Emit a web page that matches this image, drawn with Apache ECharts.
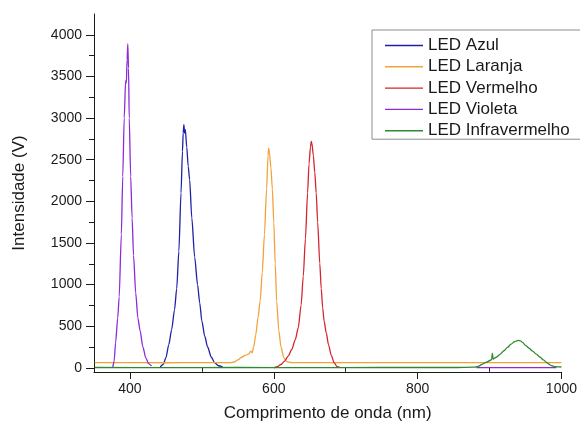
<!DOCTYPE html>
<html>
<head>
<meta charset="utf-8">
<script src="https://cdn.jsdelivr.net/npm/echarts@6/dist/echarts.min.js"></script>
<style>
  html, body { margin: 0; padding: 0; background: #ffffff; }
  #chart { width: 580px; height: 427px; }
</style>
</head>
<body>
<div id="chart"></div>
<script>
// Emission spectra of five LEDs: [wavelength (nm), intensity (V)]
const seriesNames = ['LED Azul', 'LED Laranja', 'LED Vermelho', 'LED Violeta', 'LED Infravermelho'];

const ledAzul = [
  [442, 10], [446, 40], [450, 120], [454, 280], [458, 460], [462, 700], [465, 950],
  [468, 1400], [471, 2100], [473, 2600], [474, 2820], [475, 2920], [476, 2820],
  [477, 2860], [479, 2650], [481, 2420], [483, 2260], [486, 1800], [490, 1330],
  [494, 1000], [497, 780], [500, 560], [504, 380], [508, 250], [513, 130],
  [518, 60], [523, 25], [529, 10]
];

const ledLaranja = [
  [351, 62], [400, 63], [450, 61], [500, 63], [540, 62], [545, 70], [550, 95],
  [555, 125], [560, 150], [565, 165], [568, 200], [570, 180], [572, 250],
  [575, 400], [578, 600], [581, 800], [584, 1150], [587, 1600], [590, 2150],
  [592, 2550], [593, 2640], [594, 2580], [596, 2400], [598, 2150], [600, 1750],
  [602, 1250], [604, 800], [607, 450], [610, 250], [614, 120], [618, 75],
  [625, 63], [700, 62], [800, 63], [900, 62], [1000, 63]
];

const ledVermelho = [
  [600, 0], [605, 15], [610, 40], [615, 80], [620, 140], [625, 220], [630, 340],
  [634, 480], [638, 750], [641, 1100], [644, 1550], [647, 2100], [649, 2450],
  [651, 2650], [652, 2720], [653, 2700], [655, 2550], [657, 2350], [659, 2100],
  [661, 1750], [664, 1250], [666, 950], [668, 720], [670, 560], [673, 420],
  [676, 280], [680, 150], [684, 60], [688, 15], [692, 5]
];

const ledVioleta = [
  [376, 0], [378, 80], [380, 300], [383, 600], [385, 850], [388, 1600],
  [390, 2300], [392, 3000], [394, 3450], [395, 3420], [396, 3700], [397, 3890],
  [398, 3600], [399, 3000], [401, 2300], [403, 1800], [405, 1350], [408, 900],
  [411, 600], [414, 450], [418, 250], [422, 120], [426, 50], [430, 20],
  null,
  [882, 2], [930, 2], [993, 2]
];

const ledInfravermelho = [
  [351, 4], [450, 3], [550, 4], [650, 3], [750, 4], [850, 4], [880, 8],
  [885, 20], [890, 45], [895, 65], [900, 85], [903, 100], [904, 175], [905, 105],
  [910, 130], [915, 165], [920, 205], [925, 245], [930, 285], [935, 315],
  [940, 330], [943, 325], [946, 305], [950, 270], [955, 235], [960, 200],
  [965, 165], [970, 130], [975, 95], [980, 60], [985, 30], [990, 15], [1000, 10]
];

const seriesData = [ledAzul, ledLaranja, ledVermelho, ledVioleta, ledInfravermelho];
const seriesColors = ['#1f1fa8', '#f2a23a', '#d42430', '#8e2ad8', '#2e8a2e'];

// Axis ticks and labels
const xMajorTicks = [400, 600, 800, 1000];
const xMinorTicks = [500, 700, 900];
const yMajorTicks = [0, 500, 1000, 1500, 2000, 2500, 3000, 3500, 4000];
const yMinorTicks = [250, 750, 1250, 1750, 2250, 2750, 3250, 3750];

const FONT = '"Liberation Sans", Arial, sans-serif';
const axisColor = '#1a1a1a';
const plain = v => String(v);

const chart = echarts.init(document.getElementById('chart'), null, { renderer: 'canvas' });

const xRange = { min: 350, max: 1000 };
const yRange = { min: -50, max: 4250 };

chart.setOption({
  animation: false,
  backgroundColor: '#ffffff',
  grid: { left: 94, right: 18, top: 14, bottom: 55, containLabel: false },
  legend: {
    orient: 'vertical',
    left: 372,
    top: 30,
    padding: [7, 40, 0, 13],
    icon: 'rect',
    itemWidth: 38,
    itemHeight: 1.4,
    itemGap: 4.3,
    borderColor: '#8c8c8c',
    borderWidth: 1,
    backgroundColor: '#ffffff',
    data: seriesNames,
    textStyle: { fontFamily: FONT, fontSize: 17, color: '#1a1a1a' }
  },
  xAxis: [
    {
      type: 'value', min: xRange.min, max: xRange.max,
      name: 'Comprimento de onda (nm)', nameLocation: 'middle', nameGap: 33,
      nameTextStyle: { fontFamily: FONT, fontSize: 17, color: '#1a1a1a' },
      splitLine: { show: false },
      axisLine: { show: true, onZero: false, lineStyle: { color: axisColor, width: 1 } },
      axisTick: { show: true, length: 7, customValues: xMajorTicks, lineStyle: { color: axisColor } },
      axisLabel: { show: true, margin: 10, customValues: xMajorTicks, formatter: plain, fontFamily: FONT, fontSize: 14, color: '#1a1a1a' }
    },
    {
      type: 'value', min: xRange.min, max: xRange.max, position: 'bottom',
      splitLine: { show: false },
      axisLine: { show: false },
      axisTick: { show: true, length: 4, customValues: xMinorTicks, lineStyle: { color: axisColor } },
      axisLabel: { show: false }
    }
  ],
  yAxis: [
    {
      type: 'value', min: yRange.min, max: yRange.max,
      name: 'Intensidade (V)', nameLocation: 'middle', nameGap: 66, nameRotate: 90,
      nameTextStyle: { fontFamily: FONT, fontSize: 17, color: '#1a1a1a' },
      splitLine: { show: false },
      axisLine: { show: true, onZero: false, lineStyle: { color: axisColor, width: 1 } },
      axisTick: { show: true, length: 8, customValues: yMajorTicks, lineStyle: { color: axisColor } },
      axisLabel: { show: true, margin: 12, customValues: yMajorTicks, formatter: plain, fontFamily: FONT, fontSize: 14, color: '#1a1a1a' }
    },
    {
      type: 'value', min: yRange.min, max: yRange.max, position: 'left',
      splitLine: { show: false },
      axisLine: { show: false },
      axisTick: { show: true, length: 5, customValues: yMinorTicks, lineStyle: { color: axisColor } },
      axisLabel: { show: false }
    }
  ],
  series: seriesNames.map((name, i) => ({
    name: name,
    type: 'line',
    xAxisIndex: 0,
    yAxisIndex: 0,
    data: seriesData[i],
    symbol: 'none',
    connectNulls: false,
    smooth: 0.25,
    smoothMonotone: 'x',
    color: seriesColors[i],
    lineStyle: { color: seriesColors[i], width: 1.3 },
    z: i === 4 ? 3 : 2
  }))
});
</script>
</body>
</html>
